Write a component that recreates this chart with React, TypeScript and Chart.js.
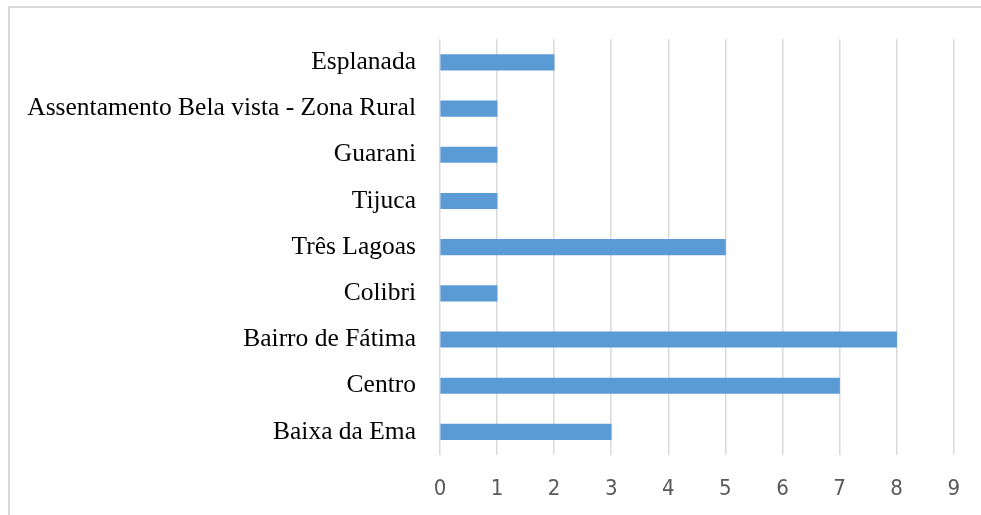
import React, { useEffect, useRef } from "react";
import { Chart, registerables } from "chart.js";

Chart.register(...registerables);

const categories: string[] = [
  "Esplanada",
  "Assentamento Bela vista - Zona Rural",
  "Guarani",
  "Tijuca",
  "Três Lagoas",
  "Colibri",
  "Bairro de Fátima",
  "Centro",
  "Baixa da Ema",
];
const values: number[] = [2, 1, 1, 1, 5, 1, 8, 7, 3];
const xTicks: number[] = [0, 1, 2, 3, 4, 5, 6, 7, 8, 9];

export default function App() {
  const ref = useRef<HTMLCanvasElement | null>(null);

  useEffect(() => {
    if (!ref.current) return;
    const chart = new Chart(ref.current, {
      type: "bar",
      data: {
        labels: categories,
        datasets: [
          {
            data: values,
            backgroundColor: "#5b9bd5",
            borderWidth: 0,
            barThickness: 15.5,
          },
        ],
      },
      options: {
        indexAxis: "y",
        animation: false,
        responsive: false,
        maintainAspectRatio: false,
        layout: { padding: { top: 36, right: 26, bottom: 0, left: 0 } },
        plugins: { legend: { display: false }, tooltip: { enabled: false } },
        scales: {
          x: {
            min: 0,
            max: 9,
            afterBuildTicks: (scale: any) => {
              scale.ticks = xTicks.map((v) => ({ value: v }));
            },
            afterFit: (scale: any) => {
              scale.height = 60;
            },
            grid: {
              color: "#d9d9d9",
              lineWidth: 1.5,
              drawTicks: false,
            },
            border: { display: false },
            ticks: {
              color: "#595959",
              padding: 21,
              font: { family: "'Liberation Sans Narrow', 'DejaVu Sans Condensed', 'Liberation Sans', sans-serif", size: 22 },
            },
          },
          y: {
            afterFit: (scale: any) => {
              scale.width = 440;
            },
            grid: { display: false, drawTicks: false },
            border: { display: false },
            ticks: {
              color: "#000000",
              padding: 24,
              font: { family: "'Liberation Serif', 'Times New Roman', serif", size: 25.5 },
            },
          },
        },
      },
    });
    return () => chart.destroy();
  }, []);

  return (
    <div
      style={{
        position: "absolute",
        left: 0,
        top: 0,
        width: 981,
        height: 515,
        overflow: "hidden",
        background: "#ffffff",
      }}
    >
      <div
        style={{
          position: "absolute",
          left: 8,
          top: 6,
          width: 1000,
          height: 540,
          borderTop: "2px solid #d9d9d9",
          borderLeft: "2px solid #d9d9d9",
        }}
      />
      <canvas
        ref={ref}
        width={981}
        height={515}
        style={{ position: "absolute", left: 0, top: 0, width: 981, height: 515 }}
      />
    </div>
  );
}
